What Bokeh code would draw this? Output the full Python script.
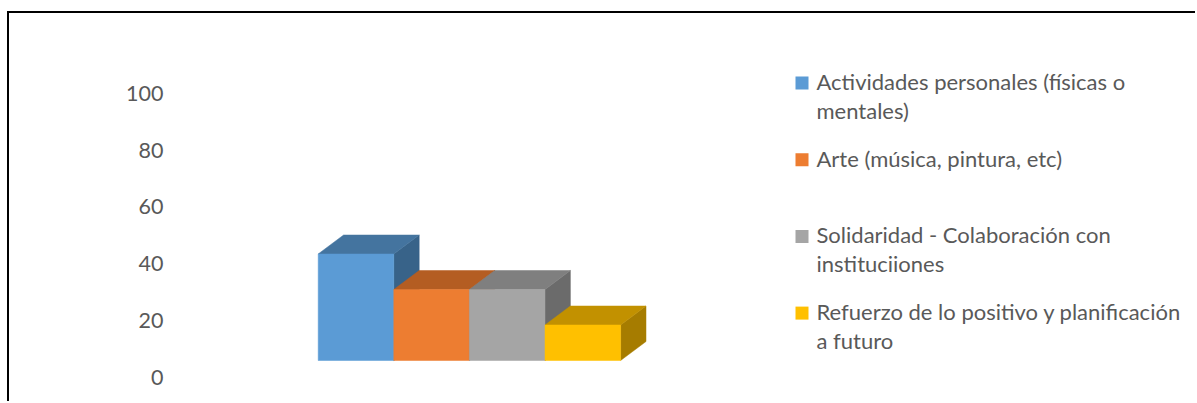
from bokeh.plotting import figure
from bokeh.models import LinearAxis, FixedTicker
from bokeh.core.properties import value
from bokeh.embed import file_html
from bokeh.resources import INLINE

# ---- data ----
categories = [
    "Actividades personales (físicas o mentales)",
    "Arte (música, pintura, etc)",
    "Solidaridad - Colaboración con instituciiones",
    "Refuerzo de lo positivo y planificación a futuro",
]
legend_lines = [
    ["Actividades personales (físicas o", "mentales)"],
    ["Arte (música, pintura, etc)"],
    ["Solidaridad - Colaboración con", "instituciiones"],
    ["Refuerzo de lo positivo y planificación", "a futuro"],
]
values = [37.5, 25, 25, 12.5]
y_ticks = [0, 20, 40, 60, 80, 100]

# ---- styles ----
front_colors = ["#5B9BD5", "#ED7D31", "#A5A5A5", "#FFC000"]
top_colors = ["#44749F", "#B45D22", "#7F7F7F", "#C29100"]
side_colors = ["#386389", "#9E5220", "#6B6B6B", "#A67C00"]
TEXT = "#595959"
FONT = "Lato"
FS = "21.5px"
LEG_FS = "22px"

W, H = 1188, 390
LEFT = 162
PX_X = 75.6      # pixels per x unit
PX_Y = 2.84      # pixels per y unit
x_start = -0.5 - (317.7 - (9 + LEFT)) / PX_X
x_end = x_start + (W - LEFT) / PX_X
y_end = 100 + (92.7 - 13) / PX_Y
y_start = y_end - H / PX_Y
FLOOR = (376.7 - 360) / PX_Y
DX = 25.4 / PX_X
DY = 19 / PX_Y


def xd(px):
    return x_start + (px - (9 + LEFT)) / PX_X


def yd(py):
    return y_end - (py - 13) / PX_Y


p = figure(width=W, height=H, output_backend="svg", toolbar_location=None,
           x_range=(x_start, x_end), y_range=(y_start, y_end),
           x_axis_location=None, y_axis_location=None,
           min_border_left=LEFT, min_border_right=0, min_border_top=0,
           min_border_bottom=0)
p.title.visible = False
p.grid.visible = False
p.outline_line_color = None
p.background_fill_color = "white"
p.border_fill_color = "white"

yax = LinearAxis(ticker=FixedTicker(ticks=y_ticks))
yax.axis_line_color = None
yax.major_tick_line_color = None
yax.minor_tick_line_color = None
yax.major_label_text_font = FONT
yax.major_label_text_font_size = FS
yax.major_label_text_color = TEXT
yax.major_label_standoff = 2
p.add_layout(yax, "left")

for i, v in enumerate(values):
    l, r = i - 0.5, i + 0.5
    b, t = FLOOR, FLOOR + v
    p.patch([r, r, r + DX, r + DX], [b, t, t + DY, b + DY],
            fill_color=side_colors[i], line_color=side_colors[i], line_width=0.5)
    p.patch([l, l + DX, r + DX, r], [t, t + DY, t + DY, t],
            fill_color=top_colors[i], line_color=top_colors[i], line_width=0.5)
    p.quad(left=l, right=r, bottom=b, top=t,
           fill_color=front_colors[i], line_color=front_colors[i], line_width=0.5)

# legend
SLOT = 76.7
LINE = 29
for i, lines in enumerate(legend_lines):
    cy = 82 + i * SLOT
    p.rect(x=[xd(801.5)], y=[yd(cy + 0.5)], width=13, height=13,
           width_units="screen", height_units="screen",
           fill_color=front_colors[i], line_color=None)
    p.text(x=[xd(816)] * len(lines),
           y=[yd(cy - 1 + k * LINE) for k in range(len(lines))],
           text=lines, text_font=value(FONT), text_font_size=LEG_FS,
           text_color=TEXT, text_baseline="middle", text_align="left")

p.styles = {"margin-left": "7px", "margin-top": "11px",
            "border-left": "2px solid #000", "border-top": "2px solid #000"}

open("out.html", "w").write(file_html(p, INLINE))
